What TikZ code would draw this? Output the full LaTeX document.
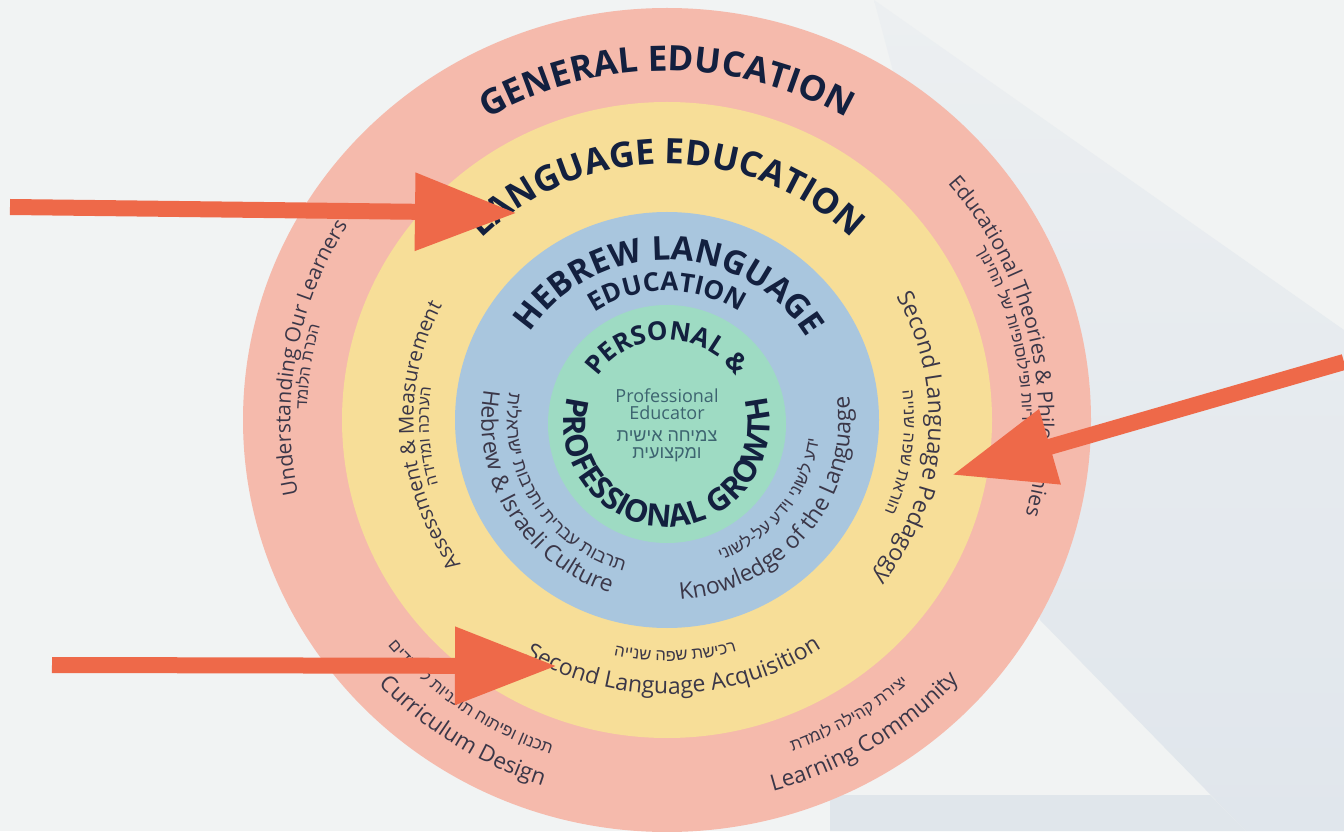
\documentclass[tikz,border=0pt]{standalone}
\usepackage{fontspec}
\setmainfont{Open Sans}
\newfontfamily\hebfont[Script=Hebrew]{Liberation Sans}
\TeXXeTstate=1
\usetikzlibrary{decorations.text,arrows.meta}

\definecolor{paper}{HTML}{F1F3F3}
\definecolor{paneltop}{HTML}{ECEFF1}
\definecolor{panelbottom}{HTML}{E0E6EC}
\definecolor{panelstrip}{HTML}{E0E6EB}
\definecolor{ringpink}{HTML}{F5BAAC}
\definecolor{ringyellow}{HTML}{F7DE98}
\definecolor{ringblue}{HTML}{A9C6DE}
\definecolor{ringgreen}{HTML}{9EDBC3}
\definecolor{navy}{HTML}{13203F}
\definecolor{labelgray}{HTML}{3B3748}
\definecolor{tealgray}{HTML}{3D6470}
\definecolor{pointer}{HTML}{EE6949}

% font switches used inside curved labels
\newcommand\hdfont[1]{\bfseries\fontsize{#1}{#1}\selectfont}
\newcommand\txfont[1]{\fontsize{#1}{#1}\selectfont}
\newcommand\hbfont[1]{\hebfont\fontsize{#1}{#1}\selectfont}

% text along an elliptical arc: centre, colour, x/y ratio, y radius, start, end, text
% (Hebrew strings are written letter by letter in display order)
\newcommand\ringtext[7]{%
  \path[shift={(#1)},decorate,
        decoration={text along path,text align=center,text color=#2,text={#7}}]
    ({#5}:{#3*#4} and {#4}) arc[start angle={#5},end angle={#6},
                               x radius={#3*#4},y radius={#4}];}

\tikzset{
  pointerline/.style={draw=pointer,line width=16pt,
    -{Triangle[length=102pt,width=74pt]}},
  centertext/.style={text=tealgray,align=center,inner sep=0pt,
    font=\fontsize{18}{17}\selectfont},
}

\begin{document}
\begin{tikzpicture}[x=1pt,y=1pt]
\useasboundingbox (0,0) rectangle (1344,831);
\fill[paper] (0,0) rectangle (1344,831);

% backdrop panel behind the right side
\shade[top color=paneltop,bottom color=panelbottom]
  (874,831) -- (1344,501) -- (1344,0) -- (1246,0) -- (1040,211) -- cycle;
\fill[panelstrip] (830,36) -- (1210,36) -- (1246,0) -- (830,0) -- cycle;

% the four rings
\coordinate (C) at (667,411);
\coordinate (G) at (667,407);
\fill[ringpink]   (C) ellipse [x radius=424,y radius=412];
\fill[ringyellow] (C) ellipse [x radius=325,y radius=318];
\fill[ringblue]   (C) ellipse [x radius=212,y radius=208];
\fill[ringgreen]  (G) circle [radius=119];

% ring titles
\ringtext{C}{navy}{1.025}{349}{170}{10}{|\hdfont{35}|GENERAL EDUCATION}
\ringtext{C}{navy}{1.025}{256}{170}{10}{|\hdfont{35}|LANGUAGE EDUCATION}
\ringtext{C}{navy}{1.02}{160}{179}{-1}{|\hdfont{33}|HEBREW LANGUAGE}
\ringtext{C}{navy}{1.02}{129}{170}{10}{|\hdfont{26}|EDUCATION}
\ringtext{G}{navy}{1}{84}{170}{10}{|\hdfont{26}|PERSONAL {\&}}
\ringtext{G}{navy}{1}{103}{125}{415}{|\hdfont{31}|PROFESSIONAL GROWTH}

% blue ring topics
\ringtext{C}{labelgray}{1.02}{182}{151}{271}{|\txfont{23}|Hebrew {\&} Israeli Culture}
\ringtext{C}{labelgray}{1.02}{157}{152}{272}{|\hbfont{18}|תילארשי תוברתו תירבע תוברת}
\ringtext{C}{labelgray}{1.02}{180}{261}{381}{|\txfont{23}|Knowledge of the Language}
\ringtext{C}{labelgray}{1.02}{150}{262}{382}{|\hbfont{17}|ינושל-לע עדיו ינושל עדי}

% yellow ring topics
\ringtext{C}{labelgray}{1.022}{248}{244}{124}{|\txfont{20.5}|Assessment {\&} Measurement}
\ringtext{C}{labelgray}{1.022}{233}{244}{124}{|\hbfont{16}|הדידמו הכרעה}
\ringtext{C}{labelgray}{1.022}{256}{55.5}{-64.5}{|\txfont{23}|Second Language Pedagogy}
\ringtext{C}{labelgray}{1.022}{232}{52}{-68}{|\hbfont{16.5}|היינש הפש תארוה}
\ringtext{C}{labelgray}{1.022}{274}{211.5}{331.5}{|\txfont{23}|Second Language Acquisition}
\ringtext{C}{labelgray}{1.022}{241}{212}{332}{|\hbfont{16.5}|היינש הפש תשיכר}

% pink ring topics
\ringtext{C}{labelgray}{1.029}{366}{230}{110}{|\txfont{21}|Understanding Our Learners}
\ringtext{C}{labelgray}{1.029}{350}{231.5}{111.5}{|\hbfont{16}|דמולה תרכה}
\ringtext{C}{labelgray}{1.029}{361}{72.7}{-47.3}{|\txfont{21}|Educational Theories {\&} Philosophies}
\ringtext{C}{labelgray}{1.029}{345}{72}{-48}{|\hbfont{16}|ךוניחה לש תויפוסוליפו תוירואית}
\ringtext{C}{labelgray}{1.029}{385}{177}{297}{|\txfont{22.5}|Curriculum Design}
\ringtext{C}{labelgray}{1.029}{353}{175}{295}{|\hbfont{16.5}|םידומיל תוינכות חותיפו ןונכת}
\ringtext{C}{labelgray}{1.029}{385}{242}{362}{|\txfont{22.5}|Learning Community}
\ringtext{C}{labelgray}{1.029}{353}{241.5}{361.5}{|\hbfont{16.5}|תדמול הליהק תריצי}

% centre labels
\node[centertext] (educator) at (667,427) {Professional\\Educator};
\node[centertext,font=\hebfont\fontsize{18}{17}\selectfont] (growth) at (667,385)
  {\beginR צמיחה אישית\endR\\\beginR ומקצועית\endR};

% pointers
\coordinate (p1from) at (10,624);
\coordinate (p1to) at (517,618);
\coordinate (p2from) at (1344,469);
\coordinate (p2to) at (952,356);
\coordinate (p3from) at (52,166);
\coordinate (p3to) at (557,165);
\draw[pointerline] (p1from) -- (p1to);
\draw[pointerline] (p2from) -- (p2to);
\draw[pointerline] (p3from) -- (p3to);
\end{tikzpicture}
\end{document}
